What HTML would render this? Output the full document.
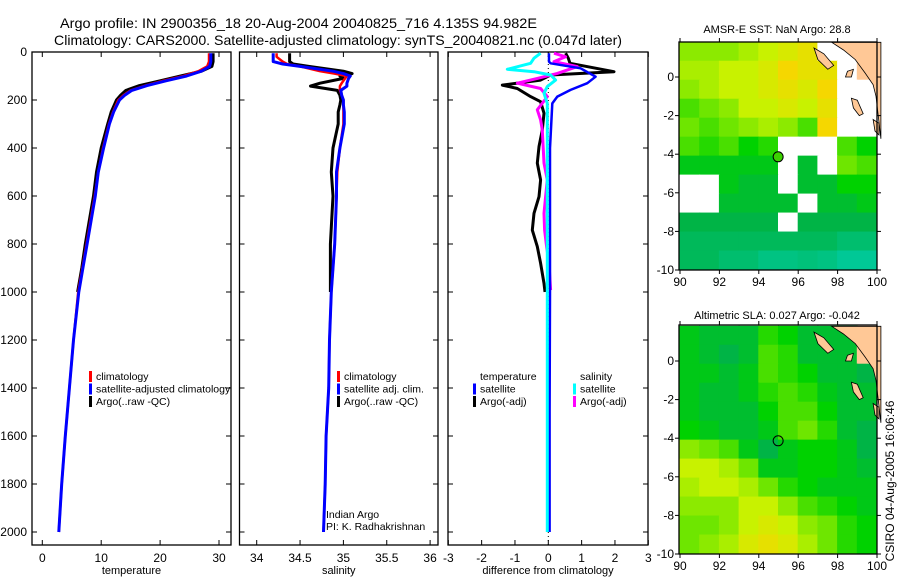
<!DOCTYPE html>
<html><head><meta charset="utf-8"><style>
body{margin:0;background:#fff;}
svg{display:block;font-family:"Liberation Sans",sans-serif;}
</style></head><body>
<svg id="fig" width="900" height="580" viewBox="0 0 900 580" xmlns="http://www.w3.org/2000/svg">
<text x="60" y="28" font-size="14" textLength="477" lengthAdjust="spacingAndGlyphs">Argo profile: IN 2900356_18 20-Aug-2004 20040825_716 4.135S 94.982E</text>
<text x="54" y="45" font-size="14" textLength="568" lengthAdjust="spacingAndGlyphs">Climatology: CARS2000. Satellite-adjusted climatology: synTS_20040821.nc (0.047d later)</text>
<text x="777" y="33" font-size="11" text-anchor="middle">AMSR-E SST: NaN Argo: 28.8</text>
<text x="777" y="319" font-size="11" text-anchor="middle">Altimetric SLA: 0.027 Argo: -0.042</text>
<text transform="translate(894,481) rotate(-90)" font-size="12" text-anchor="middle">CSIRO 04-Aug-2005 16:06:46</text>
<g id="plots"></g>
</svg>
<script>
// ---- profile data ----
const depths = [5,20,40,60,80,100,120,140,160,180,200,250,300,400,500,600,700,800,900,1000,1200,1400,1600,1800,2000];
const tempArgo = [29.0,29.0,29.0,28.8,27.0,23.5,20.0,16.5,14.2,13.3,12.6,11.7,11.1,10.0,9.2,8.7,8.0,7.3,6.7,6.0];
const tempClim = [28.3,28.3,28.3,28.0,26.5,24.0,20.5,17.5,15.0,13.8,12.9,12.0,11.3,10.3,9.5,8.9,8.2,7.5,6.8,6.1,5.3,4.6,3.9,3.3,2.8];
const tempSat = [28.6,28.6,28.6,28.4,27.0,24.5,21.0,17.8,15.2,14.0,13.1,12.1,11.4,10.4,9.5,9.0,8.3,7.6,6.9,6.2,5.3,4.6,3.9,3.3,2.8];
const salDepths = [5,20,40,50,60,80,90,100,110,130,142,160,180,200,220,250,300,400,500,600,800,1000,1200,1400,1600,1800,2000];
const salArgo = [34.38,34.38,34.38,34.42,34.6,35.0,35.1,34.96,35.0,34.73,34.62,34.93,34.96,34.97,34.96,34.94,34.94,34.88,34.86,34.88,34.85,34.85];
const salClim = [34.23,34.23,34.3,34.35,34.5,34.73,34.9,35.04,35.02,34.98,34.96,34.96,34.98,35.0,35.0,35.0,35.0,34.96,34.93,34.92,34.9,34.86,34.84,34.83,34.8,34.79,34.77];
const salSat = [34.19,34.19,34.19,34.3,34.5,34.88,35.0,35.08,35.06,35.04,35.04,34.97,34.98,35.0,35.0,35.01,35.01,34.96,34.92,34.92,34.9,34.86,34.84,34.83,34.8,34.79,34.77];
// difference panel
const dTempArgoDepth = [5,26,47,82,96,117,138,152,186,207,255,325,394,463,533,603,672,742,811,880,964,1000];
const dTempArgo = [0.52,0.6,0.65,1.97,0.07,-0.23,-1.38,-0.93,-0.53,-0.23,-0.13,-0.18,-0.28,-0.33,-0.23,-0.28,-0.43,-0.48,-0.33,-0.23,-0.13,-0.1];
const dSalArgoDepth = [5,20,40,61,89,110,130,152,186,241,283,325,463,533,603,672,742,811,880,992];
const dSalArgo = [0.17,0.52,0.17,0.87,0.27,-0.33,-0.93,-0.23,-0.03,-0.33,-0.23,-0.18,-0.13,-0.03,-0.08,-0.13,-0.11,-0.05,0.02,0.07];
const dSalSatDepth = [5,26,47,72,82,96,117,144,172,214,500,1000,1500,2000];
const dSalSat = [-0.23,-0.43,-0.53,-1.23,-0.43,0.07,0.22,-0.03,-0.13,-0.03,-0.03,-0.03,-0.03,-0.03];
const dTempSatDepth = [5,40,47,68,103,130,158,186,214,400,1000,1500,2000];
const dTempSat = [0.02,0.02,0.07,0.97,1.42,1.17,0.67,0.27,0.12,0.05,0.05,0.04,0.04];
const depthTicks = [0,200,400,600,800,1000,1200,1400,1600,1800,2000];
const tempTicks = [0,10,20,30];
const salTicks = [34,34.5,35,35.5,36];
const diffTicks = [-3,-2,-1,0,1,2,3];
// ---- map data (rows lat 1.8 -> -10, cols lon 90 -> 100; -1 missing, -2 land) ----
const sstGrid = [
[0.6,0.6,0.6,0.65,0.7,0.75,0.8,-1,-1,-2],
[0.65,0.65,0.7,0.7,0.75,0.85,0.8,0.8,-1,-2],
[0.6,0.65,0.7,0.7,0.75,0.8,0.75,0.85,-1,-1],
[0.5,0.55,0.6,0.7,0.7,0.75,0.7,0.8,-1,-1],
[0.55,0.5,0.55,0.6,0.65,0.6,0.5,0.85,-1,-1],
[0.5,0.45,0.5,0.4,0.45,-1,-1,-1,0.5,0.4],
[0.35,0.35,0.35,0.35,0.35,-1,0.3,-1,0.55,0.5],
[-1,-1,0.35,0.3,0.3,-1,0.3,0.3,0.4,0.4],
[-1,-1,0.3,0.3,0.3,0.3,-1,0.3,0.3,0.35],
[0.25,0.25,0.25,0.25,0.25,-1,0.25,0.25,0.25,0.25],
[0.2,0.2,0.2,0.2,0.2,0.2,0.2,0.2,0.15,0.15],
[0.2,0.2,0.15,0.15,0.1,0.1,0.12,0.1,0.05,0.05]];
const slaGrid = [
[0.35,0.3,0.3,0.3,0.45,0.4,0.3,0.3,0.3,-2],
[0.35,0.3,0.25,0.3,0.5,0.45,0.3,0.3,0.3,-2],
[0.35,0.35,0.3,0.35,0.5,0.45,0.4,0.3,0.3,0.25],
[0.35,0.3,0.3,0.35,0.45,0.5,0.45,0.35,0.3,0.3],
[0.35,0.3,0.3,0.3,0.4,0.5,0.5,0.4,0.3,0.3],
[0.4,0.35,0.3,0.3,0.35,0.5,0.55,0.45,0.3,0.25],
[0.6,0.55,0.5,0.35,0.25,0.35,0.4,0.4,0.35,0.25],
[0.7,0.7,0.65,0.55,0.35,0.35,0.4,0.4,0.35,0.3],
[0.65,0.7,0.7,0.65,0.55,0.45,0.4,0.35,0.35,0.35],
[0.6,0.6,0.6,0.7,0.7,0.6,0.5,0.45,0.4,0.35],
[0.55,0.55,0.6,0.7,0.75,0.7,0.6,0.55,0.45,0.4],
[0.55,0.6,0.65,0.75,0.8,0.75,0.65,0.55,0.45,0.4]];
const lonTicks = [90,92,94,96,98,100];
const latTicks = [0,-2,-4,-6,-8,-10];
const argoLon = 94.982, argoLat = -4.135;

const NS = "http://www.w3.org/2000/svg";
const root = document.getElementById('plots');
function mk(tag, attrs, parent){
  const e = document.createElementNS(NS, tag);
  for (const k in attrs) e.setAttribute(k, attrs[k]);
  (parent||root).appendChild(e); return e;
}
function txt(s, x, y, size, anchor, parent){
  const t = mk('text', {x:x, y:y, 'font-size':size, 'text-anchor':anchor||'start'}, parent);
  t.textContent = s; return t;
}
const Y0 = 52, PXM = 0.24, YB = 545;
const yD = d => Y0 + d*PXM;

function panel(name, x0, x1, xfun, xticks, xlabel, fmt){
  const g = mk('g', {});
  
  
  const r = mk('rect', {x:x0, y:Y0, width:x1-x0, height:YB-Y0, fill:'none', stroke:'#000', 'stroke-width':1.3}, g);
  
  
  xticks.forEach(v => {
    const x = xfun(v);
    mk('line', {x1:x, x2:x, y1:YB, y2:YB-5, stroke:'#000'}, g);
    mk('line', {x1:x, x2:x, y1:Y0, y2:Y0+5, stroke:'#000'}, g);
    const t = txt(fmt(v), x, 562, 12, 'middle', g);
    
    
  });
  depthTicks.forEach(d => {
    mk('line', {x1:x0, x2:x0+5, y1:yD(d), y2:yD(d), stroke:'#000'}, g);
    mk('line', {x1:x1, x2:x1-5, y1:yD(d), y2:yD(d), stroke:'#000'}, g);
  });
  const xl = txt(xlabel, (x0+x1)/2, 574, 11, 'middle', g);
  
  
  return g;
}
function line(g, xs, ds, xfun, color, w, name){
  let p = '';
  const n = Math.min(xs.length, ds.length);
  for (let i=0;i<n;i++) p += (i?'L':'M') + xfun(xs[i]).toFixed(1) + ',' + yD(ds[i]).toFixed(1);
  const e = mk('path', {d:p, fill:'none', stroke:color, 'stroke-width':w, 'stroke-linejoin':'round'}, g);
  
  
}
function legend(g, items, xm, y0){
  items.forEach((it, i) => {
    const y = y0 + i*12.5;
    if (it[1]) mk('rect', {x:xm-1, y:y-9, width:3, height:11, fill:it[1]}, g);
    const t = txt(it[0], xm+6, y, 10.5, 'start', g);
    
    
  });
}
depthTicks.forEach(d => {
  const t = txt(String(d), 27, yD(d)+4, 12, 'end');
  
  
});

// panel 1 temperature
const xT = v => 42.3 + v*5.89;
const g1 = panel('temperature-panel', 32, 231, xT, tempTicks, 'temperature', v=>String(v));
line(g1, tempArgo, depths, xT, '#000', 3, 'temp-argo-line');
line(g1, tempClim, depths, xT, '#f00', 2.5, 'temp-climatology-line');
line(g1, tempSat, depths, xT, '#00f', 3, 'temp-satellite-line');
legend(g1, [['climatology','#f00'],['satellite-adjusted climatology','#00f'],['Argo(..raw -QC)','#000']], 90, 380);

// panel 2 salinity
const xS = v => 256.7 + (v-34)*86.7;
const g2 = panel('salinity-panel', 239.5, 438, xS, salTicks, 'salinity', v=>String(v));
line(g2, salArgo, salDepths, xS, '#000', 3, 'sal-argo-line');
line(g2, salClim, salDepths, xS, '#f00', 2.5, 'sal-climatology-line');
line(g2, salSat, salDepths, xS, '#00f', 3, 'sal-satellite-line');
legend(g2, [['climatology','#f00'],['satellite adj. clim.','#00f'],['Argo(..raw -QC)','#000']], 338, 380);
const ia = txt('Indian Argo', 326, 518, 10.5, 'start', g2);


const pi = txt('PI: K. Radhakrishnan', 326, 530, 10.5, 'start', g2);



// panel 3 difference
const xD = v => 548.3 + v*33.33;
const g3 = panel('difference-panel', 448, 648, xD, diffTicks, 'difference from climatology', v=>String(v));
mk('line', {x1:xD(0), x2:xD(0), y1:Y0, y2:YB, stroke:'#000', 'stroke-dasharray':'1,3'}, g3);
line(g3, dTempArgo, dTempArgoDepth, xD, '#000', 3, 'diff-temp-argo-line');
line(g3, dSalArgo, dSalArgoDepth, xD, '#f0f', 3, 'diff-sal-argo-line');
line(g3, dTempSat, dTempSatDepth, xD, '#00f', 2.5, 'diff-temp-satellite-line');
line(g3, dSalSat, dSalSatDepth, xD, '#0ff', 3, 'diff-sal-satellite-line');
legend(g3, [['temperature',null],['satellite','#00f'],['Argo(-adj)','#000']], 474, 380);
legend(g3, [['salinity',null],['satellite','#0ff'],['Argo(-adj)','#f0f']], 574, 380);

// ---- maps ----
const stops = [[0,[0,205,170]],[0.25,[0,180,70]],[0.4,[0,210,0]],[0.55,[110,230,0]],[0.7,[200,242,0]],[0.85,[245,215,0]],[1,[250,180,0]]];
function cmap(v){
  for (let i=1;i<stops.length;i++){
    if (v <= stops[i][0]){
      const a=stops[i-1], b=stops[i], f=(v-a[0])/(b[0]-a[0]);
      return 'rgb(' + a[1].map((c,j)=>Math.round(c+(b[1][j]-c)*f)).join(',') + ')';
    }
  }
  return 'rgb(250,180,0)';
}
function map(name, grid, top, lat0y, filled){
  const g = mk('g', {});
  
  
  const X0 = 679, X1 = 877, PXD = 19.7, PYD = 19.3, B = lat0y + 10*PYD;
  const lx = lon => 680 + (lon-90)*PXD;
  const ly = lat => lat0y - lat*PYD;
  const rows = grid.length;
  grid.forEach((row, r) => {
    const latT = 1.8 - r*(11.8/rows), latB = 1.8 - (r+1)*(11.8/rows);
    row.forEach((v, c) => {
      const fill = v === -1 ? '#fff' : v === -2 ? 'rgb(255,200,150)' : cmap(v);
      const cell = mk('rect', {x:lx(90+c)-0.5, y:ly(latT)-0.5, width:PXD+1, height:ly(latB)-ly(latT)+1, fill:fill}, g);
      
      
    });
  });
  const pts = (arr) => arr.map(p => lx(p[0]).toFixed(1)+','+ly(p[1]).toFixed(1)).join(' ');
  const land = [
    [[97.7,1.8],[100.2,1.8],[100.2,-3.2],[99.95,-1.0],[99.8,-0.4],[99.4,0.2],[98.9,0.9],[98.3,1.4]],
    [[96.8,1.5],[97.3,1.2],[97.8,0.6],[97.5,0.4],[97.0,0.9]],
    [[98.5,0.3],[98.8,0.4],[98.7,0.0],[98.4,0.0]],
    [[98.7,-1.1],[99.0,-1.2],[99.3,-1.9],[99.1,-2.0],[98.8,-1.6]],
    [[99.8,-2.2],[100.1,-2.4],[100.1,-3.0],[99.9,-2.8]]
  ];
  land.forEach(l => {
    const p = mk('polygon', {points:pts(l), fill:'rgb(255,200,150)', stroke:'#000', 'stroke-width':0.8}, g);
    
    
  });
  mk('rect', {x:X0, y:top, width:X1-X0, height:B-top, fill:'none', stroke:'#000', 'stroke-width':1.3}, g);
  lonTicks.forEach(v => {
    mk('line', {x1:lx(v), x2:lx(v), y1:B, y2:B+4, stroke:'#000'}, g);
    mk('line', {x1:lx(v), x2:lx(v), y1:top, y2:top-4, stroke:'#000'}, g);
    const t = txt(String(v), lx(v), B+16, 12, 'middle', g);
    
    
  });
  latTicks.forEach(v => {
    mk('line', {x1:X0, x2:X0-4, y1:ly(v), y2:ly(v), stroke:'#000'}, g);
    mk('line', {x1:X1, x2:X1+4, y1:ly(v), y2:ly(v), stroke:'#000'}, g);
    const t = txt(String(v), X0-5, ly(v)+4, 12, 'end', g);
    
    
  });
  const c = mk('circle', {cx:lx(argoLon), cy:ly(argoLat), r:5, fill:filled?'rgb(60,210,0)':'none', stroke:'#000', 'stroke-width':1}, g);
  
  
}
map('sst-map', sstGrid, 42, 77, true);
map('sla-map', slaGrid, 325, 361, false);
</script>
</body></html>
